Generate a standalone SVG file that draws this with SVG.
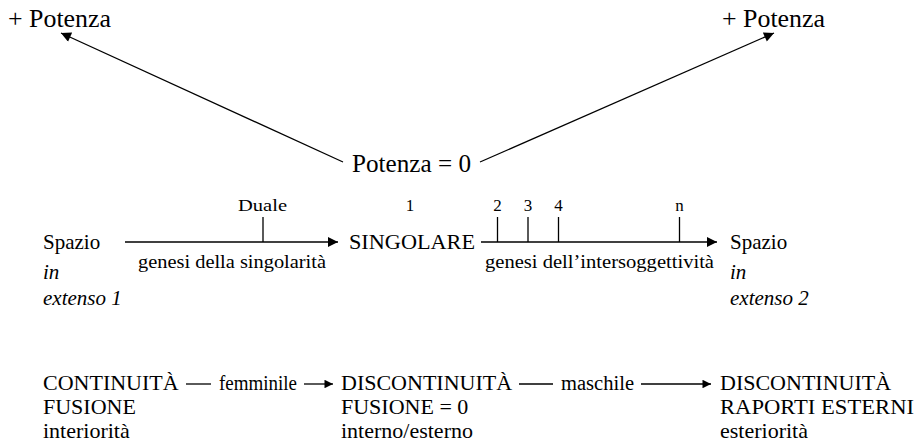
<svg xmlns="http://www.w3.org/2000/svg" width="917" height="443" viewBox="0 0 917 443" font-family="Liberation Serif, DejaVu Serif, serif">
<defs>
<marker id="ah" viewBox="0 0 10 10" refX="10" refY="5" markerWidth="14" markerHeight="10" markerUnits="userSpaceOnUse" orient="auto"><path d="M0,0 L10,5 L0,10 z" fill="#000"/></marker>
<marker id="ahs" viewBox="0 0 10 10" refX="10" refY="5" markerWidth="12" markerHeight="8.5" markerUnits="userSpaceOnUse" orient="auto"><path d="M0,0 L10,5 L0,10 z" fill="#000"/></marker>
<style>
text{font-family:"Liberation Serif","DejaVu Serif",serif;fill:#000}
.b{font-size:25px}
.m{font-size:21px}
.r{font-size:22px}
.l{font-size:19px}
.e{font-size:20px}
.s{font-size:17px}
.i{font-style:italic}
.c{text-anchor:middle}
line{stroke:#000;stroke-width:1.3;fill:none}
.a{marker-end:url(#ah)}
.as{marker-end:url(#ahs)}
</style>
</defs>
<g id="connectors">
<line class="a" x1="343" y1="162" x2="61" y2="33"/>
<line class="a" x1="480" y1="162" x2="774" y2="33"/>
<line class="a" x1="125" y1="242" x2="338" y2="242"/>
<line x1="263" y1="217" x2="263" y2="242"/>
<line class="a" x1="481" y1="242" x2="717" y2="242"/>
<line x1="497.5" y1="217" x2="497.5" y2="242"/>
<line x1="528" y1="217" x2="528" y2="242"/>
<line x1="558.5" y1="217" x2="558.5" y2="242"/>
<line x1="679.5" y1="217" x2="679.5" y2="242"/>
<line x1="186" y1="384" x2="211" y2="384"/>
<line class="as" x1="304" y1="384" x2="333" y2="384"/>
<line x1="519" y1="384" x2="553" y2="384"/>
<line class="as" x1="641" y1="384" x2="711" y2="384"/>
</g>
<g id="potenza-left"><text class="b" x="8" y="27" textLength="103" lengthAdjust="spacingAndGlyphs">+ Potenza</text></g>
<g id="potenza-right"><text class="b" x="722" y="27" textLength="103" lengthAdjust="spacingAndGlyphs">+ Potenza</text></g>
<g id="potenza-zero"><text class="b" x="352" y="172" textLength="119" lengthAdjust="spacingAndGlyphs">Potenza = 0</text></g>
<g id="labels-ticks">
<text class="s" x="238" y="211" textLength="49" lengthAdjust="spacingAndGlyphs">Duale</text>
<text class="s c" x="410" y="211">1</text>
<text class="s c" x="497.5" y="211">2</text>
<text class="s c" x="528" y="211">3</text>
<text class="s c" x="558.5" y="211">4</text>
<text class="s c" x="679.5" y="211">n</text>
</g>
<g id="spazio-1">
<text class="m" x="43" y="249">Spazio</text>
<text class="m i" x="43" y="279">in</text>
<text class="m i" x="43" y="305">extenso 1</text>
</g>
<g id="singolare"><text class="m" x="349" y="249" textLength="126" lengthAdjust="spacingAndGlyphs">SINGOLARE</text></g>
<g id="spazio-2">
<text class="m" x="730" y="249">Spazio</text>
<text class="m i" x="730" y="279">in</text>
<text class="m i" x="730" y="305">extenso 2</text>
</g>
<g id="genesi-labels">
<text class="l" x="138" y="268" textLength="188" lengthAdjust="spacingAndGlyphs">genesi della singolarità</text>
<text class="l" x="485" y="268" textLength="229" lengthAdjust="spacingAndGlyphs">genesi dell’intersoggettività</text>
</g>
<g id="continuita">
<text class="r" x="43" y="390">CONTINUITÀ</text>
<text class="r" x="43" y="414">FUSIONE</text>
<text class="r" x="43" y="438">interiorità</text>
</g>
<g id="discontinuita-1">
<text class="r" x="341" y="390">DISCONTINUITÀ</text>
<text class="r" x="341" y="414">FUSIONE = 0</text>
<text class="r" x="341" y="438">interno/esterno</text>
</g>
<g id="discontinuita-2">
<text class="r" x="720" y="390">DISCONTINUITÀ</text>
<text class="r" x="720" y="414" textLength="194" lengthAdjust="spacingAndGlyphs">RAPORTI ESTERNI</text>
<text class="r" x="720" y="438">esteriorità</text>
</g>
<g id="edge-labels">
<text class="e" x="219" y="390" textLength="78" lengthAdjust="spacingAndGlyphs">femminile</text>
<text class="e" x="561" y="390" textLength="73" lengthAdjust="spacingAndGlyphs">maschile</text>
</g>
</svg>
